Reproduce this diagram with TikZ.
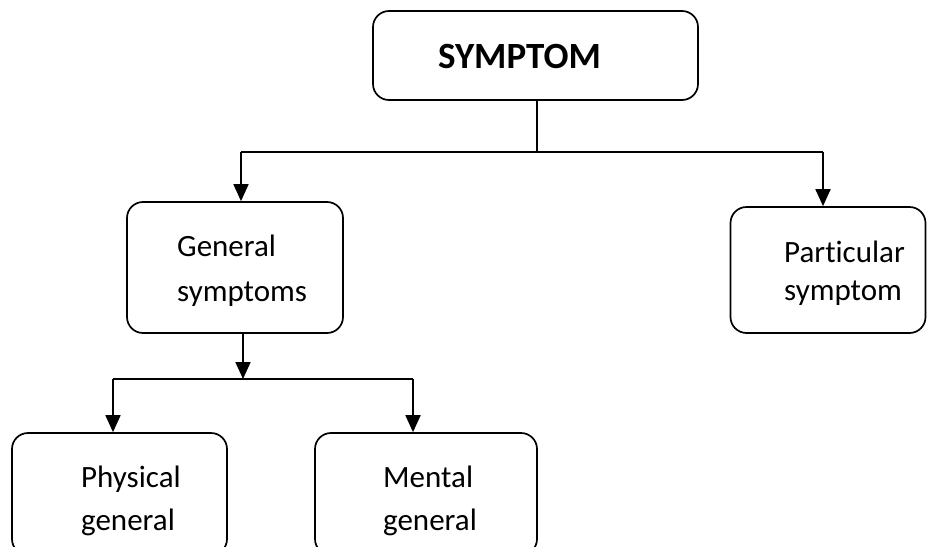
\documentclass[tikz,border=0pt]{standalone}
\usepackage{fontspec}
\setmainfont[Ligatures={NoCommon}]{Carlito}
\usetikzlibrary{arrows.meta}
\begin{document}
\begin{tikzpicture}[x=1pt,y=-1pt,
  box/.style={draw, line width=1.7pt, rounded corners=16pt, inner sep=0pt},
  lbl/.style={anchor=base west, align=left, inner sep=0pt, font=\fontsize{31}{#1}\selectfont},
  conn/.style={line width=1.8pt},
  arr/.style={line width=1.8pt, -{Triangle[width=15pt,length=17pt]}}]
\useasboundingbox (0,0) rectangle (928,546);
\begin{scope}
\clip (0,0) rectangle (928,546);
% boxes
\node[box, minimum width=325pt, minimum height=89pt] (sym) at (535.5,55.5) {};
\node[box, minimum width=216pt, minimum height=131pt] (gen) at (235,267.5) {};
\node[box, minimum width=195pt, minimum height=126pt] (part) at (828,270) {};
\node[box, minimum width=215pt, minimum height=122pt] (phys) at (119.5,494) {};
\node[box, minimum width=222pt, minimum height=122pt] (ment) at (426,494) {};
% labels (anchored at the baseline of the last line)
\node[anchor=base west, inner sep=0pt, font=\fontsize{37}{44}\selectfont\bfseries] (symt) at (438,68) {SYMPTOM};
\node[lbl=45] (gent) at (177,301) {General\\symptoms};
\node[lbl=38] (partt) at (784,300) {Particular\\symptom};
\node[lbl=43] (physt) at (81,530) {Physical\\general};
\node[lbl=43] (mentt) at (383,530) {Mental\\general};
% connectors
\coordinate (j1) at (537,152);
\coordinate (jl) at (241,152);
\coordinate (jr) at (823,152);
\coordinate (j2) at (243,379);
\coordinate (jpl) at (113,379);
\coordinate (jpr) at (413,379);
\draw[conn] (sym.south -| j1) -- (j1);
\draw[conn] (jl) -- (jr);
\draw[arr] (jl) -- (jl |- gen.north);
\draw[arr] (jr) -- (jr |- part.north);
\draw[arr] (gen.south -| j2) -- (j2);
\draw[conn] (jpl) -- (jpr);
\draw[arr] (jpl) -- (jpl |- phys.north);
\draw[arr] (jpr) -- (jpr |- ment.north);
\end{scope}
\end{tikzpicture}
\end{document}
